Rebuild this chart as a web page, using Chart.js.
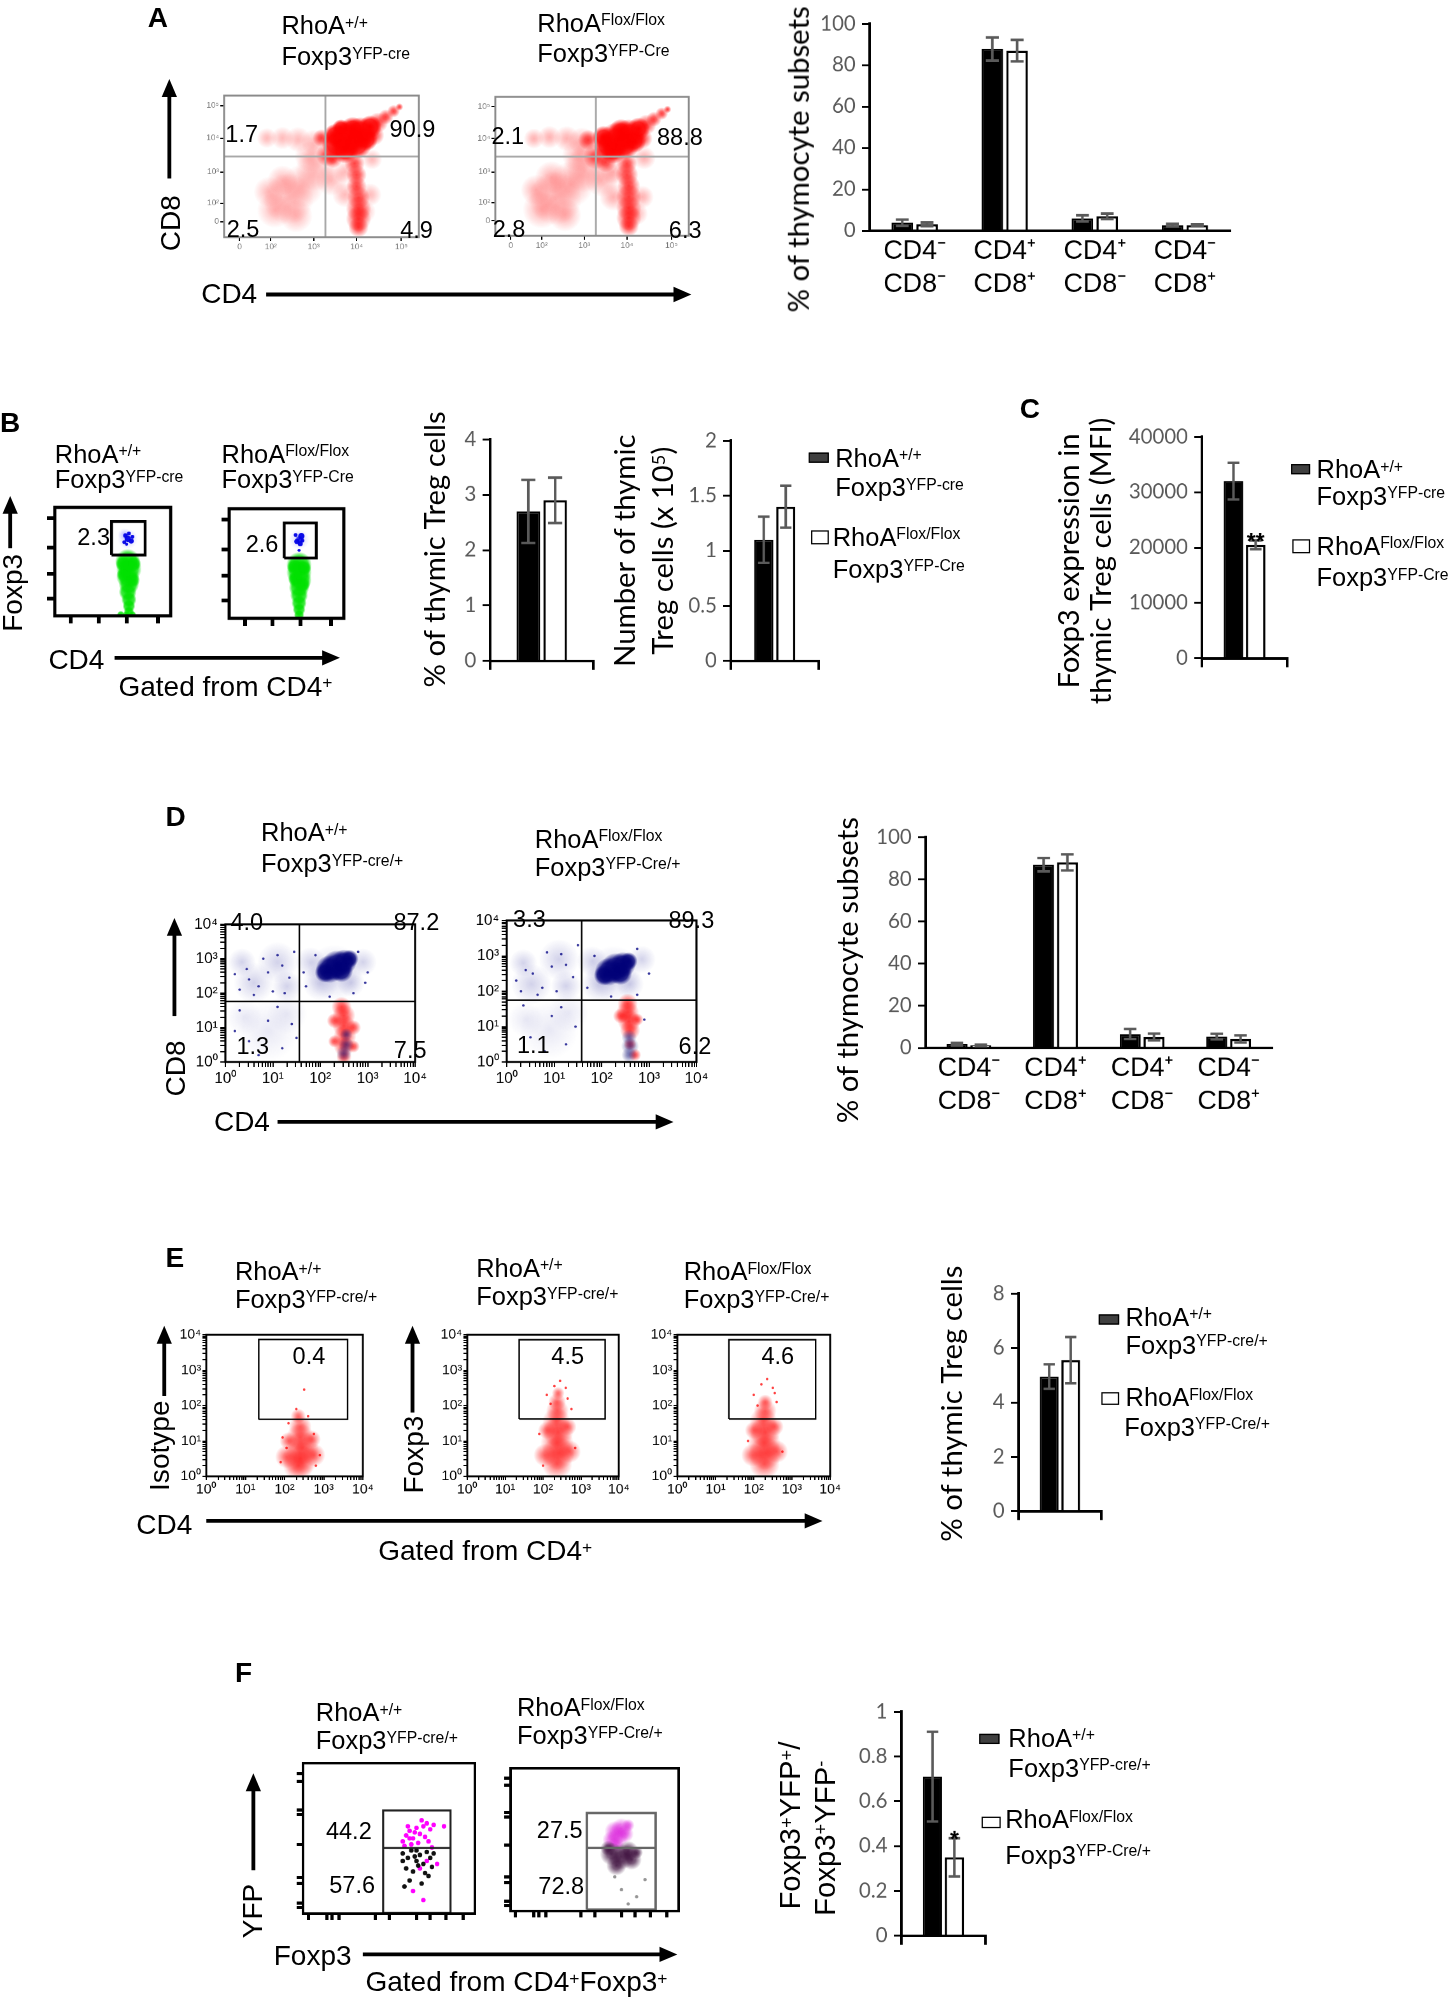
<!DOCTYPE html>
<html lang="en">
<head>
<meta charset="UTF-8">
<title>RhoA thymic Treg figure</title>
<script src="https://cdn.jsdelivr.net/npm/chart.js"></script>
<style>
  html, body { margin:0; padding:0; background:#fff; overflow:hidden; }
  body { width:1454px; height:1999px; }
  #page { position:absolute; left:0; top:0; width:1142px; height:1568px;
          transform:scale(1.27320, 1.27487); transform-origin:0 0;
          font-family:"Liberation Sans", Arial, sans-serif; color:#000; }
  #page canvas { position:absolute; }
  .t { position:absolute; white-space:nowrap; line-height:1; }
  .t sup { font-size:0.62em; position:relative; top:-0.42em; vertical-align:baseline; line-height:0; }
  .sq { position:absolute; box-sizing:border-box; border:1.5px solid #000; }
  #arrows { position:absolute; left:0; top:0; }
</style>
</head>
<body>
<div id="page"><svg id="arrows" width="1142" height="1568"></svg></div>
<script>
// ---------- bar chart values ----------
const subsetLabels = [['CD4⁻', 'CD8⁻'], ['CD4⁺', 'CD8⁺'], ['CD4⁺', 'CD8⁻'], ['CD4⁻', 'CD8⁺']];
const aWt = [3.9, 87.8, 6.0, 2.7];
const aWtErr = [1.5, 5.6, 1.5, 0.7];
const aKo = [3.1, 87.0, 7.0, 2.7];
const aKoErr = [0.9, 5.2, 1.3, 0.4];

const bPct = [2.7, 2.9];
const bPctErr = [0.57, 0.41];
const bNum = [1.1, 1.4];
const bNumErr = [0.21, 0.19];

const cMfi = [32000, 20500];
const cMfiErr = [3300, 800];
const cStars = ['', '**'];

const dWt = [1.8, 86.9, 6.6, 5.4];
const dWtErr = [0.6, 3.2, 2.4, 1.3];
const dKo = [1.2, 88.0, 5.2, 4.3];
const dKoErr = [0.4, 3.8, 1.6, 1.7];

const ePct = [4.95, 5.55];
const ePctErr = [0.45, 0.85];

const fRatio = [0.71, 0.35];
const fRatioErr = [0.2, 0.085];
const fStars = ['', '*'];

// ---------- gate percentages (UL, UR, LL, LR for quadrants) ----------
const aWtQuad = ['1.7', '90.9', '2.5', '4.9'];
const aKoQuad = ['2.1', '88.8', '2.8', '6.3'];
const bGatePct = ['2.3', '2.6'];
const dWtQuad = ['4.0', '87.2', '1.3', '7.5'];
const dKoQuad = ['3.3', '89.3', '1.1', '6.2'];
const eGatePct = ['0.4', '4.5', '4.6'];
const fWtPct = ['44.2', '57.6'];
const fKoPct = ['27.5', '72.8'];

// ---------- flow gates (in plot units) ----------
const aQuadWt = [52, 57];
const aQuadKo = [52, 57];
const bGateWt = [49, 78, 56, 87];
const bGateKo = [48, 76, 55, 87];
const dQuadWt = [1.56, 1.76];
const dQuadKo = [1.58, 1.75];
const eGateIso = [1.34, 3.61, 1.61, 3.87];
const eGateWt = [1.37, 3.64, 1.62, 3.86];
const eGateKo = [1.35, 3.62, 1.62, 3.86];
const fGateWt = [46.6, 85.8, 0.5, 68.6, 43.6];
const fGateKo = [45.4, 86.3, 1, 68.6, 44.2];

// ---------- flow clouds (x, y in plot units, r = spot size) ----------
const aWtDense = [{x:58,y:66,r:12},{x:64,y:70,r:14},{x:70,y:74,r:12},{x:62,y:62,r:11},{x:68,y:66,r:12},{x:75,y:78,r:9},{x:57,y:72,r:9},{x:73,y:69,r:9},{x:66,y:76,r:10},{x:60,y:77,r:7}];
const aWtMid = [{x:79,y:81,r:8},{x:83,y:85,r:6},{x:87,y:89,r:5},{x:90,y:92,r:3},{x:67,y:52,r:8},{x:68,y:44,r:8},{x:68,y:36,r:8},{x:69,y:28,r:9},{x:69,y:20,r:10},{x:69,y:13,r:10},{x:69,y:7,r:8},{x:53,y:58,r:9},{x:77,y:72,r:8},{x:50,y:70,r:7},{x:56,y:55,r:7}];
const aWtSparse = [{x:33,y:27,r:20},{x:26,y:19,r:14},{x:40,y:36,r:17},{x:23,y:32,r:12},{x:37,y:15,r:13},{x:30,y:40,r:12},{x:22,y:70,r:8},{x:30,y:70,r:9},{x:38,y:69,r:10},{x:46,y:67,r:10},{x:47,y:47,r:16},{x:55,y:40,r:12},{x:44,y:57,r:12},{x:62,y:30,r:10},{x:75,y:30,r:9},{x:62,y:46,r:9},{x:76,y:55,r:8},{x:72,y:18,r:9}];
const aKoDense = [{x:58,y:65,r:11},{x:63,y:69,r:14},{x:69,y:73,r:12},{x:61,y:61,r:10},{x:67,y:65,r:11},{x:74,y:77,r:9},{x:56,y:71,r:9},{x:72,y:68,r:9},{x:65,y:75,r:10}];
const aKoMid = [{x:78,y:80,r:8},{x:82,y:84,r:6},{x:86,y:88,r:5},{x:89,y:91,r:3},{x:68,y:52,r:8},{x:68,y:44,r:9},{x:69,y:36,r:9},{x:69,y:28,r:10},{x:69,y:20,r:10},{x:69,y:13,r:10},{x:69,y:7,r:8},{x:52,y:57,r:10},{x:76,y:70,r:8},{x:48,y:69,r:8},{x:57,y:53,r:8}];
const aKoSparse = [{x:31,y:27,r:21},{x:24,y:19,r:15},{x:39,y:37,r:18},{x:21,y:33,r:12},{x:36,y:15,r:13},{x:29,y:42,r:13},{x:20,y:70,r:8},{x:28,y:71,r:9},{x:37,y:70,r:10},{x:45,y:68,r:11},{x:46,y:47,r:17},{x:55,y:40,r:13},{x:43,y:58,r:13},{x:61,y:28,r:11},{x:76,y:28,r:9},{x:61,y:46,r:10},{x:77,y:56,r:9},{x:73,y:16,r:9}];

const bWtGreen = [{x:63,y:50,r:10},{x:64,y:43,r:10},{x:63,y:36,r:9},{x:64,y:29,r:8},{x:63,y:22,r:7},{x:64,y:15,r:6},{x:64,y:9,r:5},{x:64,y:4,r:4},{x:59,y:48,r:6},{x:68,y:48,r:6},{x:60,y:38,r:6},{x:67,y:33,r:6},{x:57,y:1,r:3},{x:62,y:1,r:3},{x:67,y:1,r:3}];
const bWtBlue = [{x:63,y:71,r:2.5},{x:66,y:69,r:2},{x:61,y:74,r:1.8},{x:64,y:76,r:1.5},{x:60,y:68,r:1.5},{x:67,y:73,r:1.5},{x:62,y:66,r:1.2}];
const bWtHalo = [{x:63,y:71,r:8},{x:60,y:75,r:5}];
const bKoGreen = [{x:61,y:49,r:10},{x:61,y:42,r:10},{x:62,y:35,r:9},{x:61,y:28,r:8},{x:61,y:21,r:7},{x:61,y:14,r:6},{x:61,y:8,r:5},{x:61,y:3,r:4},{x:57,y:47,r:6},{x:65,y:46,r:6},{x:58,y:36,r:6},{x:64,y:31,r:6}];
const bKoBlue = [{x:61,y:72,r:3},{x:63,y:75,r:2.5},{x:59,y:70,r:2},{x:62,y:68,r:2},{x:64,y:71,r:1.5},{x:58,y:76,r:1.5},{x:61,y:62,r:1.2}];
const bKoHalo = [{x:61,y:72,r:8}];

const dWtNavy = [{x:2.2,y:2.7,r:11},{x:2.35,y:2.8,r:12},{x:2.5,y:2.9,r:10},{x:2.62,y:3.0,r:7},{x:2.1,y:2.6,r:8},{x:2.45,y:2.65,r:9}];
const dWtHaze = [{x:2.3,y:2.6,r:22},{x:2.0,y:2.3,r:14},{x:2.65,y:2.3,r:11},{x:2.9,y:2.9,r:11},{x:1.8,y:2.9,r:12},{x:0.6,y:2.3,r:16},{x:1.1,y:2.9,r:16},{x:0.35,y:2.9,r:11},{x:1.3,y:2.2,r:12}];
const dWtDn = [{x:0.9,y:0.9,r:24},{x:1.3,y:1.4,r:16},{x:0.4,y:1.3,r:14}];
const dWtRed = [{x:2.45,y:1.6,r:8},{x:2.5,y:1.35,r:9},{x:2.5,y:1.05,r:9},{x:2.52,y:0.75,r:9},{x:2.5,y:0.45,r:8},{x:2.5,y:0.15,r:6},{x:2.3,y:1.2,r:6},{x:2.7,y:1.0,r:6},{x:2.3,y:0.6,r:5},{x:2.7,y:0.45,r:5}];
const dWtLow = [{x:2.55,y:0.5,r:6},{x:2.5,y:0.25,r:6},{x:2.55,y:0.8,r:5}];
const dWtDots = [{x:0.3,y:2.1,r:1},{x:0.5,y:2.4,r:1},{x:0.7,y:2.2,r:1},{x:0.9,y:2.6,r:1},{x:1.1,y:3.1,r:1},{x:1.2,y:2.8,r:1},{x:0.45,y:2.7,r:1},{x:1.35,y:2.45,r:1},{x:0.2,y:2.55,r:1},{x:0.8,y:3.0,r:1},{x:1.0,y:2.05,r:1},{x:1.45,y:3.2,r:1},{x:0.6,y:1.95,r:1},{x:1.25,y:2.0,r:1},{x:0.5,y:0.6,r:1},{x:0.9,y:1.2,r:1},{x:1.2,y:0.4,r:1},{x:0.3,y:1.5,r:1},{x:1.4,y:1.1,r:1},{x:0.7,y:0.2,r:1},{x:1.1,y:1.6,r:1},{x:0.2,y:0.9,r:1},{x:1.5,y:0.7,r:1},{x:1.7,y:2.2,r:1},{x:1.9,y:3.1,r:1},{x:2.8,y:3.2,r:1},{x:3.0,y:2.6,r:1},{x:1.65,y:2.6,r:1},{x:2.7,y:2.0,r:1},{x:2.2,y:1.9,r:1},{x:2.95,y:2.3,r:1}];
const dKoNavy = [{x:2.15,y:2.55,r:11},{x:2.3,y:2.65,r:12},{x:2.45,y:2.75,r:10},{x:2.57,y:2.85,r:7},{x:2.05,y:2.45,r:8},{x:2.4,y:2.5,r:9}];
const dKoHaze = [{x:2.25,y:2.5,r:22},{x:1.95,y:2.2,r:14},{x:2.6,y:2.2,r:11},{x:2.85,y:2.9,r:11},{x:1.8,y:2.85,r:12},{x:0.52,y:2.2,r:16},{x:1.1,y:2.9,r:16},{x:0.35,y:2.8,r:11},{x:1.25,y:2.15,r:12}];
const dKoDn = [{x:0.9,y:0.9,r:23},{x:1.3,y:1.4,r:16},{x:0.4,y:1.2,r:14}];
const dKoRed = [{x:2.55,y:1.65,r:8},{x:2.55,y:1.4,r:9},{x:2.58,y:1.15,r:9},{x:2.6,y:0.9,r:8},{x:2.4,y:1.3,r:6},{x:2.75,y:1.2,r:5},{x:2.6,y:0.5,r:5},{x:2.7,y:0.2,r:5}];
const dKoLow = [{x:2.58,y:0.7,r:6},{x:2.6,y:0.45,r:7},{x:2.58,y:0.2,r:6}];
const dKoDots = [{x:0.3,y:2.0,r:1},{x:0.55,y:2.5,r:1},{x:0.75,y:2.1,r:1},{x:0.95,y:2.7,r:1},{x:1.15,y:3.05,r:1},{x:1.25,y:2.75,r:1},{x:0.4,y:2.6,r:1},{x:1.4,y:2.4,r:1},{x:0.2,y:2.3,r:1},{x:0.85,y:3.1,r:1},{x:1.05,y:2.0,r:1},{x:1.5,y:3.3,r:1},{x:0.65,y:1.9,r:1},{x:0.5,y:0.7,r:1},{x:0.95,y:1.3,r:1},{x:1.25,y:0.5,r:1},{x:0.35,y:1.6,r:1},{x:1.45,y:1.0,r:1},{x:0.8,y:0.3,r:1},{x:1.15,y:1.55,r:1},{x:1.7,y:2.1,r:1},{x:1.85,y:3.0,r:1},{x:2.75,y:3.2,r:1},{x:3.0,y:2.5,r:1},{x:2.75,y:1.9,r:1},{x:2.2,y:1.85,r:1},{x:2.9,y:1.2,r:1}];

const eIsoRed = [{x:2.4,y:0.5,r:14},{x:2.45,y:0.8,r:13},{x:2.35,y:0.3,r:12},{x:2.4,y:1.1,r:11},{x:2.4,y:1.4,r:9},{x:2.35,y:1.7,r:6},{x:2.05,y:0.55,r:9},{x:2.75,y:0.6,r:9},{x:2.1,y:1.0,r:7},{x:2.7,y:1.05,r:7}];
const eIsoDots = [{x:2.1,y:1.5,r:1},{x:2.6,y:1.7,r:1},{x:2.3,y:1.9,r:1},{x:2.75,y:1.2,r:1},{x:1.95,y:1.1,r:1},{x:2.5,y:2.45,r:1},{x:2.9,y:0.6,r:1},{x:1.9,y:0.4,r:1},{x:2.05,y:0.8,r:1},{x:2.8,y:0.3,r:1}];
const eWtRed = [{x:2.37,y:0.35,r:12},{x:2.4,y:0.65,r:13},{x:2.37,y:0.95,r:13},{x:2.4,y:1.25,r:12},{x:2.35,y:1.55,r:11},{x:2.38,y:1.85,r:9},{x:2.37,y:2.1,r:7},{x:2.4,y:2.35,r:5},{x:2.05,y:0.6,r:9},{x:2.7,y:0.7,r:9},{x:2.1,y:1.3,r:7},{x:2.65,y:1.4,r:7}];
const eWtDots = [{x:2.1,y:2.3,r:1},{x:2.6,y:2.5,r:1},{x:2.45,y:2.7,r:1},{x:2.2,y:2.05,r:1},{x:2.75,y:1.9,r:1},{x:1.9,y:1.2,r:1},{x:2.85,y:0.8,r:1},{x:2.0,y:0.3,r:1},{x:2.65,y:2.2,r:1},{x:2.3,y:2.55,r:1}];
const eKoRed = [{x:2.28,y:0.35,r:12},{x:2.3,y:0.65,r:13},{x:2.27,y:0.95,r:13},{x:2.3,y:1.25,r:12},{x:2.25,y:1.55,r:11},{x:2.3,y:1.85,r:9},{x:2.3,y:2.1,r:6},{x:1.97,y:0.6,r:9},{x:2.6,y:0.7,r:9},{x:2.0,y:1.3,r:7},{x:2.55,y:1.4,r:7}];
const eKoDots = [{x:2.0,y:2.3,r:1},{x:2.5,y:2.5,r:1},{x:2.35,y:2.75,r:1},{x:2.6,y:2.1,r:1},{x:2.1,y:2.0,r:1},{x:1.85,y:1.0,r:1},{x:2.75,y:0.7,r:1},{x:2.55,y:2.35,r:1},{x:2.2,y:2.6,r:1}];

const fWtPink = [{x:58,y:48},{x:60,y:52},{x:62,y:55},{x:64,y:50},{x:66,y:57},{x:68,y:53},{x:70,y:58},{x:72,y:60},{x:74,y:56},{x:63,y:46},{x:61,y:58},{x:67,y:47},{x:71,y:51},{x:76,y:59},{x:59,y:45},{x:65,y:54},{x:73,y:48},{x:69,y:62},{x:82,y:58},{x:62,y:50},{x:68,y:30},{x:72,y:35},{x:78,y:33},{x:70,y:9},{x:64,y:15},{x:75,y:44}];
const fWtBlack = [{x:58,y:40},{x:61,y:37},{x:63,y:42},{x:66,y:35},{x:68,y:39},{x:70,y:33},{x:72,y:41},{x:74,y:37},{x:60,y:30},{x:64,y:28},{x:67,y:32},{x:71,y:27},{x:75,y:31},{x:62,y:22},{x:69,y:20},{x:73,y:25},{x:58,y:35},{x:66,y:42},{x:76,y:40},{x:65,y:38},{x:59,y:18}];
const fKoPink = [{x:62,y:56,r:8},{x:66,y:58,r:8},{x:64,y:52,r:8},{x:60,y:50,r:7},{x:68,y:54,r:7},{x:63,y:47,r:6},{x:70,y:60,r:5}];
const fKoDark = [{x:60,y:40,r:9},{x:66,y:38,r:10},{x:72,y:36,r:8},{x:63,y:32,r:8},{x:70,y:42,r:8},{x:58,y:44,r:6},{x:75,y:41,r:5}];
const fKoGrey = [{x:66,y:15,r:1.3},{x:75,y:10,r:1.3},{x:62,y:24,r:1.3},{x:80,y:22,r:1.3},{x:70,y:5,r:1.3}];

// ---------- page helpers ----------
const page = document.getElementById('page');
const svg = document.getElementById('arrows');
Chart.defaults.font.family = '"Liberation Sans", Arial, sans-serif';

function txt(html, x, y, size, o) {
  o = o || {};
  const d = document.createElement('div');
  d.className = 't';
  d.innerHTML = html;
  d.style.left = x + 'px';
  d.style.top = y + 'px';
  d.style.fontSize = size + 'px';
  if (o.bold) d.style.fontWeight = 'bold';
  if (o.font) d.style.fontFamily = o.font;
  let tf = 'translate(0,-50%)';
  if (o.align === 'right') tf = 'translate(-100%,-50%)';
  if (o.align === 'center') tf = 'translate(-50%,-50%)';
  if (o.rot) tf = 'translate(-50%,-50%) rotate(-90deg)';
  d.style.transform = tf;
  page.appendChild(d);
}

function square(l, t, w, h, fill) {
  const d = document.createElement('div');
  d.className = 'sq';
  Object.assign(d.style, {left: l + 'px', top: t + 'px', width: w + 'px', height: h + 'px', background: fill});
  page.appendChild(d);
}

function svgEl(tag, attrs) {
  const e = document.createElementNS('http://www.w3.org/2000/svg', tag);
  for (const k in attrs) e.setAttribute(k, attrs[k]);
  svg.appendChild(e);
}
function arrowH(x1, x2, y) {
  svgEl('line', {x1: x1, y1: y, x2: x2 - 8, y2: y, stroke: '#000', 'stroke-width': 3});
  svgEl('polygon', {points: `${x2},${y} ${x2 - 14},${y - 6} ${x2 - 14},${y + 6}`, fill: '#000'});
}
function arrowV(x, yTip, yTail) {
  svgEl('line', {x1: x, y1: yTail, x2: x, y2: yTip + 8, stroke: '#000', 'stroke-width': 3});
  svgEl('polygon', {points: `${x},${yTip} ${x - 6},${yTip + 14} ${x + 6},${yTip + 14}`, fill: '#000'});
}

function makeCanvas(l, t, w, h) {
  const c = document.createElement('canvas');
  c.width = Math.round(w);
  c.height = Math.round(h);
  c.style.left = l + 'px';
  c.style.top = t + 'px';
  c.style.width = Math.round(w) + 'px';
  c.style.height = Math.round(h) + 'px';
  page.appendChild(c);
  return c;
}

// box around the plot area of the flow panels
const framePlugin = {
  id: 'frame',
  afterDatasetsDraw(chart, args, o) {
    if (!o || !o.color) return;
    const a = chart.chartArea, c = chart.ctx;
    c.save();
    c.strokeStyle = o.color;
    c.lineWidth = o.width;
    c.strokeRect(a.left, a.top, a.right - a.left, a.bottom - a.top);
    c.restore();
  }
};

// error bars (+ significance stars) on bar charts
const errPlugin = {
  id: 'errbars',
  afterDatasetsDraw(chart) {
    const c = chart.ctx, y = chart.scales.y;
    chart.data.datasets.forEach((ds, i) => {
      if (!ds.errors) return;
      chart.getDatasetMeta(i).data.forEach((el, j) => {
        const v = ds.data[j], e = ds.errors[j];
        const top = y.getPixelForValue(v + e), bot = y.getPixelForValue(v - e);
        const hw = el.width * 0.3;
        c.save();
        c.strokeStyle = '#5a5a5a';
        c.lineWidth = 2;
        c.beginPath();
        c.moveTo(el.x, top); c.lineTo(el.x, bot);
        c.moveTo(el.x - hw, top); c.lineTo(el.x + hw, top);
        c.moveTo(el.x - hw, bot); c.lineTo(el.x + hw, bot);
        c.stroke();
        if (ds.stars && ds.stars[j]) {
          c.fillStyle = '#000';
          c.font = 'bold 18px "Liberation Sans", Arial';
          c.textAlign = 'center';
          c.textBaseline = 'alphabetic';
          c.fillText(ds.stars[j], el.x, top + 7);
        }
        c.restore();
      });
    });
  }
};
Chart.register(framePlugin, errPlugin);

function bars(ax, cfg) {
  const PT = 10, PR = 12;
  const cv = makeCanvas(ax[0] - cfg.yw, ax[3] - PT, ax[1] - ax[0] + cfg.yw + PR, ax[2] - ax[3] + PT + cfg.xh);
  new Chart(cv, {
    type: 'bar',
    data: {
      labels: cfg.labels,
      datasets: [
        {data: cfg.wt, errors: cfg.wtErr, stars: cfg.wtStars, backgroundColor: '#000', borderColor: '#000', borderWidth: 1.5},
        {data: cfg.ko, errors: cfg.koErr, stars: cfg.koStars, backgroundColor: '#fff', borderColor: '#000', borderWidth: 1.8}
      ]
    },
    options: {
      responsive: false, animation: false, devicePixelRatio: 2, events: [],
      layout: {padding: {left: 0, top: PT, right: PR, bottom: 0}},
      plugins: {legend: {display: false}, tooltip: {enabled: false}},
      datasets: {bar: {categoryPercentage: cfg.cp, barPercentage: cfg.bp}},
      scales: {
        x: {
          grid: {display: true, drawOnChartArea: false, drawTicks: cfg.xTicks, tickLength: 7, color: '#000', lineWidth: 2, offset: true},
          border: {display: true, color: '#000', width: 2},
          ticks: {color: '#000', padding: 3, maxRotation: 0, autoSkip: false,
                  font: {family: '"Liberation Sans", Arial', size: 21, lineHeight: 1.25}},
          afterFit: s => { s.height = cfg.xh; }
        },
        y: {
          min: 0, max: cfg.max,
          grid: {drawOnChartArea: false, drawTicks: true, tickLength: 6, color: '#000', lineWidth: 1.5},
          border: {display: true, color: '#000', width: 2},
          ticks: {stepSize: cfg.step, color: '#595959', padding: 5, font: {family: 'Lato', size: 16},
                  callback: v => String(Math.round(v * 100) / 100)},
          afterFit: s => { s.width = cfg.yw; }
        }
      }
    }
  });
}

function flowAxis(range, ticks, labels, t, fit) {
  return {
    type: 'linear', min: range[0], max: range[1],
    afterBuildTicks: s => { s.ticks = ticks.map(v => ({value: v})); },
    afterFit: s => { if (s.isHorizontal()) s.height = fit; else s.width = fit; },
    grid: {drawOnChartArea: false, drawTicks: true, tickLength: t.len, color: '#000', lineWidth: t.lw},
    border: {display: false},
    ticks: {autoSkip: false, maxRotation: 0, padding: t.pad, color: t.color,
            font: {family: '"Liberation Sans", Arial', size: t.size},
            callback: (v, i) => labels[i] || ''}
  };
}

// soft-edged spot: solid core fading out, so overlapping spots read as a density cloud
function soft(rgb, a, hard) {
  return ctx => {
    const ch = ctx.chart, p = ctx.raw;
    if (!ch.chartArea || !p || !p.r || p.r < 3) return `rgba(${rgb},${a})`;
    const x = ch.scales.x.getPixelForValue(p.x), y = ch.scales.y.getPixelForValue(p.y);
    const g = ch.ctx.createRadialGradient(x, y, 0, x, y, p.r);
    g.addColorStop(0, `rgba(${rgb},${a})`);
    g.addColorStop(hard, `rgba(${rgb},${a * 0.8})`);
    g.addColorStop(1, `rgba(${rgb},0)`);
    return g;
  };
}

function flow(box, cfg) {
  const pad = 6;
  const cv = makeCanvas(box[0] - cfg.ml, box[1] - pad, box[2] + cfg.ml + pad, box[3] + pad + cfg.mb);
  const sets = [];
  cfg.lines.forEach(pts => sets.push({type: 'line', data: pts, borderColor: cfg.lineColor, borderWidth: cfg.lineW,
                                       pointRadius: 0, fill: false, tension: 0, order: 0}));
  cfg.clouds.forEach((c, i) => sets.push({type: 'bubble', data: c[0], backgroundColor: soft(c[1], c[2], c[3]),
                                           borderWidth: 0, radius: c[4], order: i + 1}));
  new Chart(cv, {
    type: 'bubble',
    data: {datasets: sets},
    options: {
      responsive: false, animation: false, devicePixelRatio: 2, events: [],
      layout: {padding: {left: 0, top: pad, right: pad, bottom: 0}},
      plugins: {legend: {display: false}, tooltip: {enabled: false}, frame: {color: cfg.frameColor, width: cfg.frameW}},
      scales: {
        x: flowAxis(cfg.xr, cfg.xt, cfg.xl, cfg.tick, cfg.mb),
        y: flowAxis(cfg.yr, cfg.yt, cfg.yl, cfg.tick, cfg.ml)
      }
    }
  });
}

function quadLines(q, xr, yr) {
  return [[{x: q[0], y: yr[0]}, {x: q[0], y: yr[1]}], [{x: xr[0], y: q[1]}, {x: xr[1], y: q[1]}]];
}
function rectLine(g) {
  return [{x: g[0], y: g[2]}, {x: g[1], y: g[2]}, {x: g[1], y: g[3]}, {x: g[0], y: g[3]}, {x: g[0], y: g[2]}];
}

// decade ticks for log-scaled flow axes
const supDigit = ['⁰', '¹', '²', '³', '⁴'];
const decTicks = [], decLabels = [];
for (let n = 0; n < 4; n++) {
  for (let k = 1; k < 10; k++) {
    decTicks.push(n + Math.log10(k));
    decLabels.push(k === 1 ? '10' + supDigit[n] : '');
  }
}
decTicks.push(4);
decLabels.push('10' + supDigit[4]);

// ---------- labels for genotypes ----------
const wtName = 'RhoA<sup>+/+</sup>';
const koName = 'RhoA<sup>Flox/Flox</sup>';
const wtCre = 'Foxp3<sup>YFP-cre</sup>';
const koCre = 'Foxp3<sup>YFP-Cre</sup>';
const wtCreHet = 'Foxp3<sup>YFP-cre/+</sup>';
const koCreHet = 'Foxp3<sup>YFP-Cre/+</sup>';
const LATO = 'Lato, "Open Sans", sans-serif';
const RED = '255,0,0', NAVY = '0,0,120', GREEN = '0,225,0', BLUE = '0,0,230';

function title2(x, y1, y2, a, b) { txt(a, x, y1, 20); txt(b, x, y2, 20); }

// ================= PANEL A =================
txt('A', 116, 14, 22, {bold: true});
title2(221, 20, 44, wtName, wtCre);
title2(422, 18, 42, koName, koCre);
const aTick = {len: 3, lw: 1, pad: 1, size: 6.5, color: '#777'};
const aX = [8, 24, 46, 68, 91], aXl = ['0', '10²', '10³', '10⁴', '10⁵'];
const aY = [11, 24, 46, 70, 93];
flow([170, 61, 173, 133], {
  ml: 14, mb: 12, xr: [0, 100], yr: [0, 100], xt: aX, xl: aXl, yt: aY, yl: aXl, tick: aTick,
  frameColor: '#8a8a8a', frameW: 1.5, lineColor: '#a8a8a8', lineW: 1.5,
  lines: quadLines(aQuadWt, [0, 100], [0, 100]),
  clouds: [[aWtDense, RED, 1, 0.65], [aWtMid, RED, 0.75, 0.35], [aWtSparse, '255,30,30', 0.3, 0.3]]
});
flow([381.5, 61, 173.5, 133], {
  ml: 14, mb: 12, xr: [0, 100], yr: [0, 100], xt: aX, xl: aXl, yt: aY, yl: aXl, tick: aTick,
  frameColor: '#8a8a8a', frameW: 1.5, lineColor: '#a8a8a8', lineW: 1.5,
  lines: quadLines(aQuadKo, [0, 100], [0, 100]),
  clouds: [[aKoDense, RED, 1, 0.6], [aKoMid, RED, 0.75, 0.35], [aKoSparse, '255,30,30', 0.34, 0.3]]
});
txt(aWtQuad[0], 177, 106, 18.5); txt(aWtQuad[1], 342, 102, 18.5, {align: 'right'});
txt(aWtQuad[2], 178, 180, 18.5); txt(aWtQuad[3], 340, 181, 18.5, {align: 'right'});
txt(aKoQuad[0], 386, 107, 18.5); txt(aKoQuad[1], 552, 108, 18.5, {align: 'right'});
txt(aKoQuad[2], 387, 180, 18.5); txt(aKoQuad[3], 551, 181, 18.5, {align: 'right'});
arrowV(133, 62, 140);
txt('CD8', 134, 175, 22, {rot: true});
txt('CD4', 158, 231, 22);
arrowH(209, 543, 231);

bars([683, 966, 181, 14], {labels: subsetLabels, wt: aWt, wtErr: aWtErr, ko: aKo, koErr: aKoErr,
  max: 100, step: 20, yw: 44, xh: 62, cp: 0.55, bp: 0.87, xTicks: false});
txt('% of thymocyte subsets', 627, 125, 23, {rot: true, font: LATO});

// ================= PANEL B =================
txt('B', 0, 332, 22, {bold: true});
title2(43, 356, 376, wtName, wtCre);
title2(174, 356, 376, koName, koCre);
const bTick = {len: 6, lw: 3, pad: 0, size: 6, color: '#000'};
flow([43, 394, 94.5, 90.5], {
  ml: 10, mb: 8, xr: [0, 100], yr: [0, 100], xt: [14, 38, 62, 89], xl: [], yt: [16, 39, 63, 90], yl: [], tick: bTick,
  frameColor: '#000', frameW: 2.5, lineColor: '#000', lineW: 2.2,
  lines: [rectLine(bGateWt)],
  clouds: [[bWtBlue, BLUE, 0.95, 0.6], [bWtHalo, '110,110,255', 0.3, 0.3], [bWtGreen, GREEN, 0.95, 0.7]]
});
flow([180, 395.4, 93.7, 91.6], {
  ml: 10, mb: 8, xr: [0, 100], yr: [0, 100], xt: [14, 38, 62, 89], xl: [], yt: [16, 39, 63, 90], yl: [], tick: bTick,
  frameColor: '#000', frameW: 2.5, lineColor: '#000', lineW: 2.2,
  lines: [rectLine(bGateKo)],
  clouds: [[bKoBlue, BLUE, 0.95, 0.6], [bKoHalo, '110,110,255', 0.3, 0.3], [bKoGreen, GREEN, 0.95, 0.7]]
});
txt(bGatePct[0], 86.4, 421.6, 18.5, {align: 'right'});
txt(bGatePct[1], 218.7, 427, 18.5, {align: 'right'});
arrowV(8, 389, 430);
txt('Foxp3', 10, 465, 22, {rot: true});
txt('CD4', 38, 518, 22);
arrowH(90, 267, 516);
txt('Gated from CD4<sup>+</sup>', 93, 539, 22);

bars([385, 466, 523, 340], {labels: [''], wt: [bPct[0]], wtErr: [bPctErr[0]], ko: [bPct[1]], koErr: [bPctErr[1]],
  max: 4, step: 1, yw: 30, xh: 10, cp: 0.52, bp: 0.88, xTicks: true});
txt('% of thymic Treg cells', 341, 431, 23, {rot: true, font: LATO});

bars([574, 643, 523, 341], {labels: [''], wt: [bNum[0]], wtErr: [bNumErr[0]], ko: [bNum[1]], koErr: [bNumErr[1]],
  max: 2, step: 0.5, yw: 38, xh: 10, cp: 0.5, bp: 0.87, xTicks: true});
txt('Number of thymic', 490, 432, 23, {rot: true, font: LATO});
txt('Treg cells (x 10<sup>5</sup>)', 520, 432, 23, {rot: true, font: LATO});

square(635, 355, 16, 8, '#404040');
txt(wtName, 656, 359, 20); txt(wtCre, 656, 382, 20);
square(637, 416, 14, 11, '#fff');
txt(koName, 654, 421, 20); txt(koCre, 654, 446, 20);

// ================= PANEL C =================
txt('C', 801, 321, 22, {bold: true});
bars([944, 1011, 521, 338], {labels: [''], wt: [cMfi[0]], wtErr: [cMfiErr[0]], wtStars: [cStars[0]],
  ko: [cMfi[1]], koErr: [cMfiErr[1]], koStars: [cStars[1]],
  max: 40000, step: 10000, yw: 64, xh: 10, cp: 0.52, bp: 0.88, xTicks: true});
txt('Foxp3 expression in', 839, 440, 23, {rot: true, font: LATO});
txt('thymic Treg cells (MFI)', 864, 440, 23, {rot: true, font: LATO});
square(1014, 364, 15, 8, '#404040');
txt(wtName, 1034, 368, 20); txt(wtCre, 1034, 389, 20);
square(1015, 423, 14, 11, '#fff');
txt(koName, 1034, 428, 20); txt(koCre, 1034, 453, 20);

// ================= PANEL D =================
txt('D', 130, 641, 22, {bold: true});
title2(205, 653, 677, wtName, wtCreHet);
title2(420, 658, 680, koName, koCreHet);
const dTick = {len: 4, lw: 1, pad: 2, size: 12, color: '#000'};
flow([177.3, 707, 167, 128], {
  ml: 24, mb: 22, xr: [0, 4], yr: [0, 4], xt: decTicks, xl: decLabels, yt: decTicks, yl: decLabels, tick: dTick,
  frameColor: '#000', frameW: 1.6, lineColor: '#000', lineW: 1.2,
  lines: quadLines(dQuadWt, [0, 4], [0, 4]),
  clouds: [[dWtNavy, NAVY, 0.97, 0.65], [dWtLow, '20,20,120', 0.6, 0.3], [dWtRed, RED, 0.7, 0.35],
           [dWtDots, '20,20,140', 0.85, 1], [dWtHaze, '30,30,150', 0.2, 0.2], [dWtDn, '30,30,150', 0.1, 0.2]]
});
flow([398, 704.5, 166, 128.5], {
  ml: 24, mb: 22, xr: [0, 4], yr: [0, 4], xt: decTicks, xl: decLabels, yt: decTicks, yl: decLabels, tick: dTick,
  frameColor: '#000', frameW: 1.6, lineColor: '#000', lineW: 1.2,
  lines: quadLines(dQuadKo, [0, 4], [0, 4]),
  clouds: [[dKoNavy, NAVY, 0.97, 0.65], [dKoLow, '20,20,120', 0.6, 0.3], [dKoRed, RED, 0.7, 0.35],
           [dKoDots, '20,20,140', 0.85, 1], [dKoHaze, '30,30,150', 0.2, 0.2], [dKoDn, '30,30,150', 0.1, 0.2]]
});
txt(dWtQuad[0], 181, 723.5, 18.5); txt(dWtQuad[1], 345, 723.5, 18.5, {align: 'right'});
txt(dWtQuad[2], 185.7, 821, 18.5); txt(dWtQuad[3], 335, 824, 18.5, {align: 'right'});
txt(dKoQuad[0], 403, 721, 18.5); txt(dKoQuad[1], 561, 722, 18.5, {align: 'right'});
txt(dKoQuad[2], 406, 820, 18.5); txt(dKoQuad[3], 558.7, 821, 18.5, {align: 'right'});
arrowV(137, 720, 797);
txt('CD8', 138, 838, 22, {rot: true});
txt('CD4', 168, 880, 22);
arrowH(218, 529, 880);

bars([727, 999, 822, 652], {labels: subsetLabels, wt: dWt, wtErr: dWtErr, ko: dKo, koErr: dKoErr,
  max: 100, step: 10, yw: 44, xh: 62, cp: 0.55, bp: 0.88, xTicks: false});
txt('% of thymocyte subsets', 665, 761, 23, {rot: true, font: LATO});

// ================= PANEL E =================
txt('E', 130, 987, 22, {bold: true});
title2(184.5, 997, 1019, wtName, wtCreHet);
title2(374, 994.5, 1017, wtName, wtCreHet);
title2(537, 997, 1019, koName, koCreHet);
const eTick = {len: 3, lw: 1, pad: 1, size: 11, color: '#000'};
const eBoxes = [[161.6, 1039, 131, 119], [367, 1040, 126, 118], [532, 1040, 127, 118]];
const eGates = [eGateIso, eGateWt, eGateKo];
const eClouds = [[eIsoRed, eIsoDots], [eWtRed, eWtDots], [eKoRed, eKoDots]];
eBoxes.forEach((b, i) => {
  flow(b, {
    ml: 20, mb: 18, xr: [0, 4], yr: [0, 4], xt: decTicks, xl: decLabels, yt: decTicks, yl: decLabels, tick: eTick,
    frameColor: '#000', frameW: 1.5, lineColor: '#000', lineW: 1.2,
    lines: [rectLine(eGates[i])],
    clouds: [[eClouds[i][1], RED, 0.75, 1], [eClouds[i][0], RED, 0.6, 0.3]]
  });
  txt(eGatePct[i], b[0] + b[2] * (eGates[i][0] + eGates[i][1]) / 8, 1063.5, 18.5, {align: 'center'});
});
arrowV(129, 1040, 1095);
txt('Isotype', 126, 1134, 22, {rot: true});
arrowV(324, 1040, 1108);
txt('Foxp3', 325, 1141, 22, {rot: true});
txt('CD4', 107, 1196, 22);
arrowH(162, 646, 1193);
txt('Gated from CD4<sup>+</sup>', 297, 1217, 22);

bars([800, 864.5, 1190, 1010], {labels: [''], wt: [ePct[0]], wtErr: [ePctErr[0]], ko: [ePct[1]], koErr: [ePctErr[1]],
  max: 8, step: 2, yw: 30, xh: 10, cp: 0.52, bp: 0.87, xTicks: true});
txt('% of thymic Treg cells', 747, 1101, 23, {rot: true, font: LATO});
square(862.6, 1031, 16, 8, '#404040');
txt(wtName, 884, 1033, 20); txt(wtCreHet, 884, 1054.6, 20);
square(864.5, 1092, 14, 10, '#fff');
txt(koName, 884, 1096, 20); txt(koCreHet, 883, 1119, 20);

// ================= PANEL F =================
txt('F', 184.6, 1312, 22, {bold: true});
title2(248, 1343, 1365, wtName, wtCreHet);
title2(406, 1339, 1361, koName, koCreHet);
const fTick = {len: 5, lw: 2.5, pad: 0, size: 6, color: '#000'};
const fX = [3, 14, 17, 21, 42, 50, 66, 74, 83, 93];
const fY = [4, 7, 20, 24, 46, 66, 69, 88, 93];
flow([238.3, 1383, 134.8, 118], {
  ml: 10, mb: 8, xr: [0, 100], yr: [0, 100], xt: fX, xl: [], yt: fY, yl: [], tick: fTick,
  frameColor: '#000', frameW: 2, lineColor: '#222', lineW: 1.6,
  lines: [rectLine(fGateWt), [{x: fGateWt[0], y: fGateWt[4]}, {x: fGateWt[1], y: fGateWt[4]}]],
  clouds: [[fWtBlack, '17,17,17', 1, 1, 1.8], [fWtPink, '255,0,255', 1, 1, 1.8]]
});
flow([401.4, 1383, 135.9, 118], {
  ml: 10, mb: 8, xr: [0, 100], yr: [0, 100], xt: fX, xl: [], yt: fY, yl: [], tick: fTick,
  frameColor: '#000', frameW: 2, lineColor: '#666', lineW: 2,
  lines: [rectLine(fGateKo), [{x: fGateKo[0], y: fGateKo[4]}, {x: fGateKo[1], y: fGateKo[4]}]],
  clouds: [[fKoDark, '50,0,50', 0.8, 0.4], [fKoPink, '220,40,220', 0.7, 0.4], [fKoGrey, '80,80,80', 0.6, 1]]
});
txt(fWtPct[0], 292, 1436.7, 18.5, {align: 'right'});
txt(fWtPct[1], 294.6, 1479, 18.5, {align: 'right'});
txt(fKoPct[0], 457.7, 1436, 18.5, {align: 'right'});
txt(fKoPct[1], 458.8, 1480, 18.5, {align: 'right'});
arrowV(199, 1391, 1467);
txt('YFP', 199, 1499, 22, {rot: true});
txt('Foxp3', 215, 1534, 22);
arrowH(285, 532, 1533);
txt('Gated from CD4<sup>+</sup>Foxp3<sup>+</sup>', 287, 1555, 22);

bars([708.4, 774.6, 1522.6, 1338], {labels: [''], wt: [fRatio[0]], wtErr: [fRatioErr[0]], wtStars: [fStars[0]],
  ko: [fRatio[1]], koErr: [fRatioErr[1]], koStars: [fStars[1]],
  max: 1, step: 0.2, yw: 40, xh: 10, cp: 0.52, bp: 0.88, xTicks: true});
txt('Foxp3<sup>+</sup>YFP<sup>+</sup>/', 621, 1432, 23, {rot: true});
txt('Foxp3<sup>+</sup>YFP<sup>-</sup>', 648, 1442, 23, {rot: true});
square(769.4, 1360, 16, 8, '#404040');
txt(wtName, 792, 1363, 20); txt(wtCreHet, 792, 1386.5, 20);
square(771, 1424.5, 14.6, 9.5, '#fff');
txt(koName, 789.5, 1427, 20); txt(koCreHet, 789.5, 1454.5, 20);
</script>
</body>
</html>
